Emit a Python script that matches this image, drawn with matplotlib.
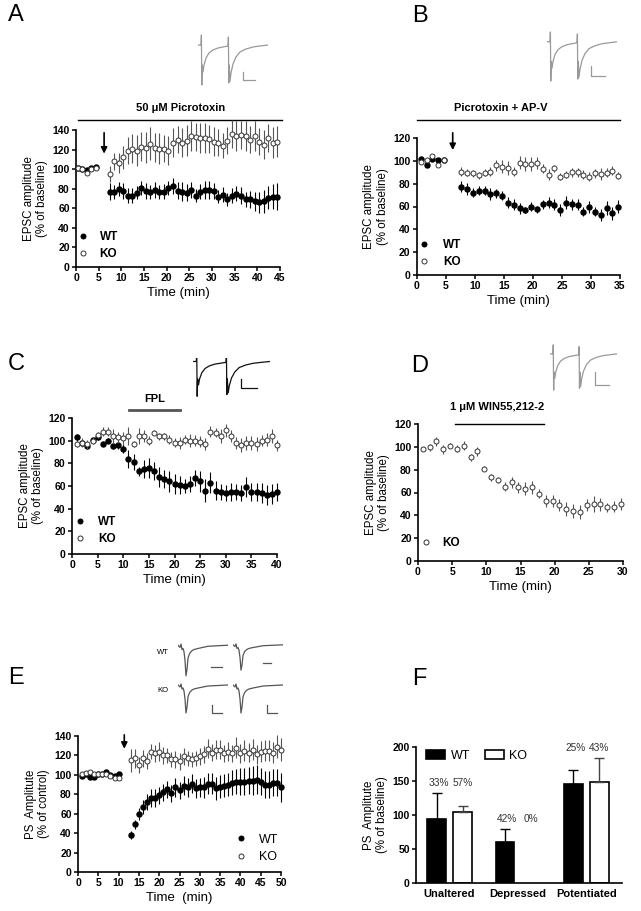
import matplotlib
matplotlib.use('Agg')
import matplotlib.pyplot as plt
from matplotlib.lines import Line2D
from matplotlib.patches import Patch
import numpy as np

plt.rcParams['font.family'] = ['Liberation Sans', 'DejaVu Sans']
plt.rcParams['font.weight'] = 'bold'

W, H = 641.0, 911.0

# ---- panel A : 50 uM picrotoxin
a_t_base = [0.4, 1.4, 2.4, 3.4, 4.4]
a_wt_base = [101, 100, 99, 101, 102]
a_ko_base = [101, 100, 96, 100, 101]
a_base_err = [1.5, 1.5, 2, 1.5, 1.5]
a_t = [7.4, 8.4, 9.4, 10.4, 11.4, 12.4, 13.4, 14.4, 15.4, 16.4, 17.4, 18.4, 19.4,
       20.4, 21.4, 22.4, 23.4, 24.4, 25.4, 26.4, 27.4, 28.4, 29.4, 30.4, 31.4, 32.4,
       33.4, 34.4, 35.4, 36.4, 37.4, 38.4, 39.4, 40.4, 41.4, 42.4, 43.4, 44.4]
a_wt = [77, 77, 80, 78, 73, 73, 76, 81, 78, 77, 79, 77, 77, 81, 83, 78, 77, 76, 79,
        73, 77, 79, 79, 78, 72, 74, 69, 73, 75, 73, 69, 69, 67, 66, 67, 71, 72, 72]
a_wt_err = [9, 7, 7, 8, 8, 8, 7, 7, 8, 7, 8, 7, 8, 7, 8, 9, 10, 9, 8, 7, 8, 9, 9,
            8, 7, 8, 7, 8, 8, 9, 8, 9, 10, 11, 12, 12, 13, 14]
a_ko = [95, 108, 106, 112, 119, 121, 119, 123, 122, 126, 122, 121, 121, 119, 127, 130,
        127, 129, 134, 133, 132, 132, 131, 128, 127, 124, 129, 136, 134, 135, 134, 130,
        134, 128, 125, 132, 127, 128]
a_ko_err = [8, 9, 10, 12, 14, 15, 16, 15, 16, 17, 15, 16, 14, 15, 15, 14, 15, 16, 15,
            14, 15, 15, 14, 15, 14, 13, 14, 14, 15, 14, 15, 14, 15, 14, 15, 14, 16, 16]

# ---- panel B : picrotoxin + AP-V
b_t_base = [0.7, 1.7, 2.7, 3.7, 4.7]
b_wt_base = [102, 96, 102, 101, 101]
b_ko_base = [99, 101, 104, 96, 101]
b_base_err = [1.5, 1.5, 1.5, 1.5, 1.5]
b_t = [7.7, 8.7, 9.7, 10.7, 11.7, 12.7, 13.7, 14.7, 15.7, 16.7, 17.7, 18.7, 19.7, 20.7,
       21.7, 22.7, 23.7, 24.7, 25.7, 26.7, 27.7, 28.7, 29.7, 30.7, 31.7, 32.7, 33.7, 34.7]
b_wt = [77.5, 75.5, 72, 74, 74, 71, 71.5, 69.5, 63.5, 61.5, 58.5, 57, 60, 57.5, 62,
        63.5, 61.5, 57, 63.5, 62, 61.5, 55.5, 59.5, 55.5, 52.5, 58.5, 54, 60]
b_wt_err = [5, 5, 4, 4, 4, 5, 4, 4, 5, 5, 5, 3, 4, 3, 4, 5, 5, 5, 6, 5, 5, 4, 5, 4,
            5, 6, 6, 6]
b_ko = [90.5, 89.5, 89, 87.5, 89.5, 90.5, 96, 95, 94, 90.5, 98.5, 97, 97.5, 98, 93,
        88, 93.5, 86, 88, 90, 90, 88, 86, 89, 88.5, 89.5, 91.5, 87]
b_ko_err = [4, 3, 3, 3, 3, 4, 5, 6, 6, 4, 6, 6, 6, 5, 4, 5, 3, 3, 3, 4, 4, 4, 4, 4,
            5, 4, 4, 3]

# ---- panel C : FPL
c_t = [1, 2, 3, 4, 5, 6, 7, 8, 9, 10, 11, 12, 13, 14, 15, 16, 17, 18, 19, 20,
       21, 22, 23, 24, 25, 26, 27, 28, 29, 30, 31, 32, 33, 34, 35, 36, 37, 38, 39, 40]
c_wt = [103, 98, 95, 101, 103, 97, 100, 95, 96, 93, 84, 81, 73, 75, 76, 73, 68, 66,
        64, 62, 61, 60, 62, 67, 64, 56, 63, 56, 55, 54, 55, 55, 54, 59, 55, 55, 54,
        52, 53, 55]
c_wt_err = [3, 3, 2, 2, 2, 2, 2, 2, 3, 4, 8, 7, 4, 8, 9, 8, 9, 8, 9, 9, 8, 6, 7, 7,
            9, 10, 9, 8, 7, 7, 8, 7, 7, 9, 8, 8, 9, 9, 9, 8]
c_ko = [97, 98, 97, 100, 105, 108, 108, 104, 103, 102, 104, 97, 104, 104, 100, 107,
        104, 104, 101, 98, 98, 101, 100, 100, 99, 97, 108, 107, 104, 109, 104, 98, 96,
        98, 98, 97, 100, 101, 104, 96]
c_ko_err = [3, 4, 4, 3, 3, 4, 4, 6, 5, 6, 8, 3, 7, 5, 4, 2, 3, 3, 4, 4, 5, 4, 6, 5,
            5, 5, 5, 4, 6, 6, 5, 5, 6, 6, 6, 6, 5, 6, 6, 5]

# ---- panel D : WIN55,212-2 (KO only)
d_t = [0.7, 1.7, 2.7, 3.7, 4.7, 5.7, 6.7, 7.7, 8.7, 9.7, 10.7, 11.7, 12.7, 13.7, 14.7,
       15.7, 16.7, 17.7, 18.7, 19.7, 20.7, 21.7, 22.7, 23.7, 24.7, 25.7, 26.7, 27.7,
       28.7, 29.7]
d_ko = [98, 99.5, 105, 98, 101, 98.5, 101, 91, 96, 81, 73.5, 71, 65, 69, 64.5, 63.5,
        64.5, 59, 52.5, 52.5, 49, 45.5, 44, 43, 49, 50, 49.5, 47, 47.5, 50]
d_ko_err = [2, 3, 4, 4, 2, 3, 4, 3, 4, 2, 3, 3, 4, 5, 5, 6, 6, 4, 5, 5, 5, 6, 6, 6,
            5, 7, 6, 4, 5, 5]

# ---- panel E : population spike
e_t_base = [1, 2, 3, 4, 5, 6, 7, 8, 9, 10]
e_wt_base = [99, 101, 98, 98, 101, 101, 103, 100, 99, 101]
e_ko_base = [101, 102, 103, 101, 101, 101, 101, 99, 97, 97]
e_base_err = [1.5, 1.5, 1.5, 1.5, 1.5, 1.5, 1.5, 1.5, 1.5, 1.5]
e_t = [13, 14, 15, 16, 17, 18, 19, 20, 21, 22, 23, 24, 25, 26, 27, 28, 29, 30, 31,
       32, 33, 34, 35, 36, 37, 38, 39, 40, 41, 42, 43, 44, 45, 46, 47, 48, 49, 50]
e_wt = [38, 49, 60, 67, 72, 76, 76, 79, 82, 85, 81, 87, 84, 89, 87, 91, 86, 87, 87,
        91, 91, 86, 88, 89, 90, 92, 93, 93, 93, 94, 94, 95, 93, 90, 90, 92, 92, 87]
e_wt_err = [4, 5, 6, 7, 8, 9, 9, 9, 9, 9, 9, 10, 9, 10, 10, 10, 10, 10, 11, 11, 11,
            12, 12, 12, 12, 13, 13, 14, 14, 14, 15, 15, 14, 14, 14, 14, 14, 15]
e_ko = [115, 117, 110, 117, 114, 124, 122, 124, 120, 120, 116, 116, 114, 119, 117, 116,
        117, 119, 121, 127, 123, 126, 126, 122, 124, 122, 128, 122, 125, 123, 126, 121,
        124, 125, 125, 123, 129, 126]
e_ko_err = [12, 10, 8, 9, 8, 8, 9, 10, 9, 8, 8, 9, 9, 9, 8, 8, 8, 9, 9, 10, 9, 10, 10,
            9, 10, 9, 11, 10, 11, 10, 11, 10, 11, 11, 11, 11, 12, 12]

# ---- panel F : bars
f_groups = ['Unaltered', 'Depressed', 'Potentiated']
f_wt = [94, 61, 145]
f_wt_err = [38, 18, 21]
f_ko = [104, 0, 148]
f_ko_err = [9, 0, 36]
f_wt_pct = ['33%', '42%', '25%']
f_ko_pct = ['57%', '0%', '43%']

# example traces (paired pulse EPSC and population spike)
pp_t = [0, 3, 3.4, 3.8, 4.2, 5, 6, 8, 11, 15, 20, 25, 30, 30.4, 30.8, 31.2, 32, 33,
        35, 38, 42, 48, 55, 62, 70]
pp_v = [0, 0, 10, -40, -20, -27, -20, -13, -8, -5, -3, -2, -1, 8, -38, -20, -36, -28,
        -19, -12, -7, -4, -2, -1, 0]
ps_t = [0, 2, 3, 4, 5, 6, 7, 8, 9, 10, 11, 12, 14, 16, 20, 25, 30, 40, 50]
ps_v = [0, -2, 1, -4, -3, -6, -14, -28, -22, -12, -9, -7, -5, -4, -3, -2, -1, -0.5, 0]

TICK = 7.5
XLAB = 9.5
YLAB = 8.3
NOTE = 8


def px_axes(fig, left, right, top, bottom):
    return fig.add_axes([left / W, 1 - bottom / H, (right - left) / W, (bottom - top) / H])


def style_axes(ax):
    for side in ['top', 'right']:
        ax.spines[side].set_visible(False)
    for side in ['left', 'bottom']:
        ax.spines[side].set_linewidth(1.2)
    ax.tick_params(direction='out', length=3, width=1.1, labelsize=TICK, pad=1.5)


def plot_series(ax, t, v, e, filled, ms=3.6):
    if filled:
        ax.errorbar(t, v, yerr=e, fmt='o', ms=ms, mfc='black', mec='black',
                    ecolor='black', elinewidth=0.8, capsize=0, clip_on=False, zorder=3)
    else:
        ax.errorbar(t, v, yerr=e, fmt='o', ms=ms, mfc='white', mec='#333333', mew=0.7,
                    ecolor='#555555', elinewidth=0.8, capsize=0, clip_on=False, zorder=4)


def add_legend(ax, labels, styles, anchor, weight='bold', size=8.5, pad=1.0):
    handles = []
    for filled in styles:
        handles.append(Line2D([], [], ls='none', marker='o', ms=3.6,
                              mfc='black' if filled else 'white',
                              mec='black' if filled else '#333333', mew=0.7))
    leg = ax.legend(handles, labels, loc='center left', bbox_to_anchor=anchor,
                    frameon=False, handlelength=0.8, handletextpad=pad,
                    labelspacing=0.45, borderpad=0, borderaxespad=0,
                    prop={'size': size, 'weight': weight})
    return leg


def add_trace(fig, box, t, v, xlim, ylim, color, bar):
    ax = px_axes(fig, *box)
    ax.plot(t, v, color=color, lw=0.9)
    ax.plot(bar[0], bar[1], color=color, lw=0.9)
    ax.set_xlim(xlim)
    ax.set_ylim(ylim)
    ax.axis('off')
    return ax


def time_axis(ax, xmax, ymax, xlabel='Time (min)',
              ylabel='EPSC amplitude\n(% of baseline)'):
    ax.set_xlim(0, xmax)
    ax.set_ylim(0, ymax)
    ax.set_xticks(range(0, xmax + 1, 5))
    ax.set_yticks(range(0, ymax + 1, 20))
    ax.set_xlabel(xlabel, fontsize=XLAB, labelpad=3)
    ax.set_ylabel(ylabel, fontsize=YLAB, labelpad=3)


def add_arrow(ax, t, y_tip, y_tail):
    ax.annotate('', xy=(t, y_tip), xytext=(t, y_tail),
                arrowprops=dict(arrowstyle='-|>', color='black', lw=1.2,
                                mutation_scale=9),
                annotation_clip=False)


fig = plt.figure(figsize=(W / 100, H / 100), dpi=100)

# ---------------- A
ax = px_axes(fig, 76, 280, 130, 267)
style_axes(ax)
plot_series(ax, a_t_base, a_ko_base, a_base_err, False)
plot_series(ax, a_t_base, a_wt_base, a_base_err, True)
plot_series(ax, a_t, a_ko, a_ko_err, False)
plot_series(ax, a_t, a_wt, a_wt_err, True)
time_axis(ax, 45, 140)
ax.plot([0.5, 45.5], [150, 150], color='black', lw=1.0, clip_on=False)
ax.text(23, 162, '50 μM Picrotoxin', ha='center', va='center', fontsize=NOTE)
add_arrow(ax, 6.2, 113, 140)
add_legend(ax, ['WT', 'KO'], [True, False], (0.012, 0.157), pad=1.0)
add_trace(fig, (198, 268, 33, 87), pp_t, pp_v, (0, 70), (-42, 12), '#999999',
          ([45, 45, 57], [-27, -35, -35]))

# ---------------- B
ax = px_axes(fig, 416.7, 620, 138, 275)
style_axes(ax)
plot_series(ax, b_t_base, b_ko_base, b_base_err, False)
plot_series(ax, b_t_base, b_wt_base, b_base_err, True)
plot_series(ax, b_t, b_ko, b_ko_err, False)
plot_series(ax, b_t, b_wt, b_wt_err, True)
time_axis(ax, 35, 120)
ax.plot([0, 35], [136, 136], color='black', lw=1.0, clip_on=False)
ax.text(14.4, 146.5, 'Picrotoxin + AP-V', ha='center', va='center', fontsize=NOTE)
add_arrow(ax, 6.2, 107, 127)
add_legend(ax, ['WT', 'KO'], [True, False], (0.014, 0.157), pad=1.2)
add_trace(fig, (547, 617, 30, 83), pp_t, pp_v, (0, 70), (-42, 12), '#999999',
          ([44, 44, 58], [-25, -35, -35]))

# ---------------- C
ax = px_axes(fig, 72, 277, 418, 554)
style_axes(ax)
plot_series(ax, c_t, c_ko, c_ko_err, False)
plot_series(ax, c_t, c_wt, c_wt_err, True)
time_axis(ax, 40, 120)
ax.plot([11.1, 21], [127, 127], color='#555555', lw=2.0, clip_on=False)
ax.text(16.2, 137, 'FPL', ha='center', va='center', fontsize=NOTE)
add_legend(ax, ['WT', 'KO'], [True, False], (0.017, 0.173), pad=1.1)
add_trace(fig, (193, 270, 358, 398), pp_t, pp_v, (0, 70), (-42, 4), '#111111',
          ([44, 44, 58], [-20, -30, -30]))

# ---------------- D
ax = px_axes(fig, 418, 623, 424, 561)
style_axes(ax)
plot_series(ax, d_t, d_ko, d_ko_err, False)
time_axis(ax, 30, 120)
ax.plot([5.4, 18.5], [120, 120], color='black', lw=1.0, clip_on=False)
ax.text(11.6, 135, '1 μM WIN55,212-2', ha='center', va='center', fontsize=NOTE)
add_legend(ax, ['KO'], [False], (0.017, 0.131), pad=1.0)
add_trace(fig, (550, 617, 343, 392), pp_t, pp_v, (0, 70), (-42, 12), '#999999',
          ([47, 47, 62], [-20, -34, -34]))

# ---------------- E
ax = px_axes(fig, 78, 281, 736, 872)
style_axes(ax)
plot_series(ax, e_t_base, e_ko_base, e_base_err, False)
plot_series(ax, e_t_base, e_wt_base, e_base_err, True)
plot_series(ax, e_t, e_ko, e_ko_err, False)
plot_series(ax, e_t, e_wt, e_wt_err, True)
time_axis(ax, 50, 140, xlabel='Time  (min)', ylabel='PS  Amplitute\n(% of control)')
add_arrow(ax, 11.4, 124, 144)
add_legend(ax, ['WT', 'KO'], [True, False], (0.776, 0.173), weight='normal',
           size=9, pad=1.1)
fig.text(163 / W, 1 - 653 / H, 'WT', fontsize=5.5, weight='normal', ha='center', va='center')
fig.text(163 / W, 1 - 691 / H, 'KO', fontsize=5.5, weight='normal', ha='center', va='center')
add_trace(fig, (178, 228, 643, 678), ps_t, ps_v, (0, 50), (-30, 2), '#555555',
          ([33, 44], [-20, -20]))
add_trace(fig, (233, 283, 643, 672), ps_t, ps_v, (0, 50), (-30, 2), '#555555',
          ([30, 38], [-20, -20]))
add_trace(fig, (178, 228, 683, 715), ps_t, ps_v, (0, 50), (-30, 2), '#555555',
          ([34, 34, 44], [-20, -28, -28]))
add_trace(fig, (233, 283, 683, 715), ps_t, ps_v, (0, 50), (-30, 2), '#555555',
          ([34, 34, 44], [-20, -28, -28]))

# ---------------- F
ax = px_axes(fig, 416, 622, 747, 883)
style_axes(ax)
x = np.arange(len(f_groups))
off, bw = 0.19, 0.27
ax.bar(x - off, f_wt, bw, color='black', edgecolor='black', lw=1.2, label='WT',
       yerr=[np.zeros(3), f_wt_err], capsize=3.5,
       error_kw=dict(ecolor='black', elinewidth=1.0, capthick=1.0))
ko_x = [xi + off for xi, v in zip(x, f_ko) if v > 0]
ko_v = [v for v in f_ko if v > 0]
ko_e = [e for e, v in zip(f_ko_err, f_ko) if v > 0]
ax.bar(ko_x, ko_v, bw, color='white', edgecolor='black', lw=1.2, label='KO',
       yerr=[np.zeros(len(ko_e)), ko_e], capsize=3.5,
       error_kw=dict(ecolor='#444444', elinewidth=1.0, capthick=1.0))
for i in range(len(f_groups)):
    top = max(f_wt[i] + f_wt_err[i], f_ko[i] + f_ko_err[i])
    ax.text(x[i] - off + 0.03, top + 15, f_wt_pct[i], ha='center', va='center',
            fontsize=7.3, weight='normal', color='#333333')
    ax.text(x[i] + off, top + 15, f_ko_pct[i], ha='center', va='center',
            fontsize=7.3, weight='normal', color='#333333')
ax.set_xlim(-0.49, 2.52)
ax.set_ylim(0, 200)
ax.set_yticks(range(0, 201, 50))
ax.set_xticks(x)
ax.set_xticklabels(f_groups, fontsize=8)
ax.tick_params(axis='x', length=0, pad=4)
ax.set_ylabel('PS  Amplitute\n(% of baseline)', fontsize=YLAB, labelpad=3)
ax.legend(handles=[Patch(fc='black', ec='black', lw=1.2),
                   Patch(fc='white', ec='black', lw=1.2)],
          labels=['WT', 'KO'], loc='center left', bbox_to_anchor=(0.049, 0.934),
          ncol=2, frameon=False, handlelength=1.5, handleheight=0.7,
          handletextpad=0.45, columnspacing=1.2, borderpad=0, borderaxespad=0,
          prop={'size': 9, 'weight': 'normal'})

# panel letters
for letter, (lx, ly) in zip('ABCDEF', [(16, 15), (420, 16), (16, 364), (420, 366),
                                        (16, 678), (419, 679)]):
    fig.text(lx / W, 1 - ly / H, letter, fontsize=17, weight='normal',
             ha='center', va='center')

fig.savefig('out.png', dpi=100)
